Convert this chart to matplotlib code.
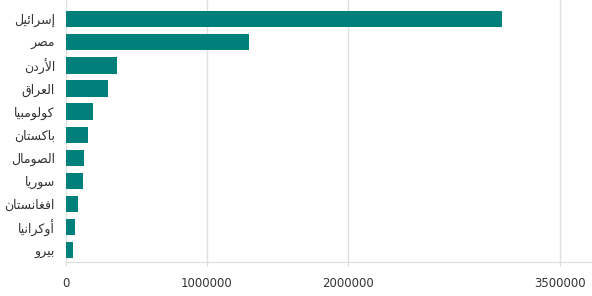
import matplotlib
matplotlib.use("Agg")
import matplotlib.pyplot as plt
from matplotlib import font_manager

countries = ["إسرائيل", "مصر", "الأردن", "العراق", "كولومبيا", "باكستان",
             "الصومال", "سوريا", "افغانستان", "أوكرانيا", "بيرو"]
values = [3090000, 1300000, 360000, 296000, 189000, 154000,
          126000, 118000, 83000, 62000, 48000]
xticks = [0, 1000000, 2000000, 3500000]

# matplotlib does no arabic shaping, so map letters to presentation forms
# (isolated, final, initial, medial) and reverse for left-to-right drawing
FORMS = {
    "ا": (0xFE8D, 2), "أ": (0xFE83, 2), "إ": (0xFE87, 2), "آ": (0xFE81, 2),
    "ب": (0xFE8F, 4), "ت": (0xFE95, 4), "ر": (0xFEAD, 2), "د": (0xFEA9, 2),
    "س": (0xFEB1, 4), "ص": (0xFEB9, 4), "ع": (0xFEC9, 4), "غ": (0xFECD, 4),
    "ف": (0xFED1, 4), "ق": (0xFED5, 4), "ك": (0xFED9, 4), "ل": (0xFEDD, 4),
    "م": (0xFEE1, 4), "ن": (0xFEE5, 4), "و": (0xFEED, 2), "ي": (0xFEF1, 4),
    "ئ": (0xFE89, 4),
}
LAM_ALEF = {"ا": 0xFEFB, "أ": 0xFEF7, "إ": 0xFEF9, "آ": 0xFEF5}


def dual(c):
    return c in FORMS and FORMS[c][1] == 4


def shape(word):
    out = []
    i = 0
    n = len(word)
    while i < n:
        c = word[i]
        prev_joins = i > 0 and dual(word[i - 1])
        if c == "ل" and i + 1 < n and word[i + 1] in LAM_ALEF:
            out.append(chr(LAM_ALEF[word[i + 1]] + (1 if prev_joins else 0)))
            i += 2
            continue
        if c not in FORMS:
            out.append(c)
            i += 1
            continue
        base, nf = FORMS[c]
        next_joins = nf == 4 and i + 1 < n and word[i + 1] in FORMS
        if prev_joins and next_joins:
            k = 3
        elif prev_joins:
            k = 1
        elif next_joins:
            k = 2
        else:
            k = 0
        out.append(chr(base + k))
        i += 1
    return "".join(reversed(out))


names = {f.name for f in font_manager.fontManager.ttflist}
label_font = "DejaVu Sans Condensed" if "DejaVu Sans Condensed" in names else "DejaVu Sans"
label_size = 10 if label_font == "DejaVu Sans Condensed" else 9

fig = plt.figure(figsize=(5.92, 2.96), dpi=100)
ax = fig.add_axes([66 / 592, 1 - 262 / 296, 1 - 66 / 592, 262 / 296])

pos = list(range(len(countries)))
ax.barh(pos, values, height=0.705, color="#00807a", zorder=2)

ax.set_xlim(0, 3730000)
ax.set_ylim(10.51, -0.83)
ax.set_xticks(xticks)
ax.set_xticklabels([str(v) for v in xticks], fontsize=8.5, color="#333333")
ax.set_yticks(pos)
ax.set_yticklabels([shape(c) for c in countries], fontsize=label_size,
                   color="#333333", family=label_font)
ax.grid(axis="x", color="#e0e0e0", linewidth=1, zorder=0)
for s in ["top", "right", "left"]:
    ax.spines[s].set_visible(False)
ax.spines["bottom"].set_color("#dddddd")
ax.tick_params(axis="x", length=3, color="#dddddd", pad=8)
ax.tick_params(axis="y", length=0, pad=8)

plt.savefig("out.png")
